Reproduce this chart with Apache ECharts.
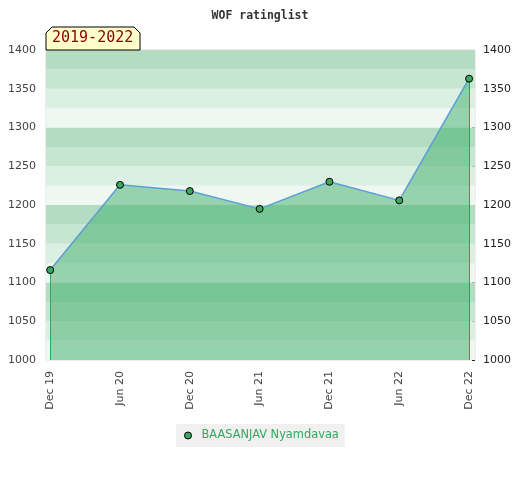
<!DOCTYPE html>
<html>
<head>
<meta charset="utf-8">
<script src="https://cdn.jsdelivr.net/npm/echarts@6/dist/echarts.min.js"></script>
<style>html,body{margin:0;padding:0;background:#fff;}#c{width:520px;height:480px;}</style>
</head>
<body>
<div id="c"></div>
<script>
const categories = ['Dec 19', 'Jun 20', 'Dec 20', 'Jun 21', 'Dec 21', 'Jun 22', 'Dec 22'];
const ratings = [1116, 1226, 1218, 1195, 1230, 1206, 1363];
const seriesName = 'BAASANJAV Nyamdavaa';
const periodLabel = '2019-2022';
const yTicks = [1000, 1050, 1100, 1150, 1200, 1250, 1300, 1350, 1400];
const bandEdges = [1000, 1025, 1050, 1075, 1100, 1125, 1150, 1175, 1200, 1225, 1250, 1275, 1300, 1325, 1350, 1375, 1400];
const bandColors = ['#b3dcc3', '#c6e6d2', '#dcefe3', '#eef7f1'];

const yMin = yTicks[0], yMax = yTicks[yTicks.length - 1];
const points = ratings.map((v, i) => [i, v]);
const bands = [];
for (let i = 0; i < bandEdges.length - 1; i++) {
  bands.push([{yAxis: bandEdges[i], itemStyle: {color: bandColors[3 - (i % 4)], opacity: 1}}, {yAxis: bandEdges[i + 1]}]);
}
const last = ratings.length - 1;

const chart = echarts.init(document.getElementById('c'));
chart.setOption({
  animation: false,
  title: {
    text: 'WOF ratinglist', left: 'center', top: 5,
    textStyle: {fontFamily: 'DejaVu Sans Mono', fontWeight: 'bold', fontSize: 11.5, color: '#333'}
  },
  grid: {left: 46, right: 45, top: 50, bottom: 120, show: true, borderColor: '#dddddd', borderWidth: 1,
         backgroundColor: 'transparent', containLabel: false, outerBoundsMode: 'none'},
  legend: {
    bottom: 33, left: 176,
    data: [{name: seriesName, icon: 'circle'}],
    itemWidth: 7, itemHeight: 7, itemGap: 6,
    backgroundColor: '#f0f0f0', padding: [6, 6, 6, 8],
    textStyle: {color: '#34a85c', fontSize: 11.4, fontFamily: 'DejaVu Sans', padding: [0, 0, 0, 5]},
    itemStyle: {borderColor: '#000', borderWidth: 1}
  },
  xAxis: {
    type: 'value', min: -0.06, max: 6.085,
    axisLine: {show: false}, axisTick: {show: false}, splitLine: {show: false},
    axisLabel: {
      customValues: categories.map((c, i) => i),
      rotate: 90, margin: 11, color: '#444', fontSize: 11, fontFamily: 'DejaVu Sans',
      formatter: v => categories[Math.round(v)] || ''
    }
  },
  yAxis: [
    {
      type: 'value', min: yMin, max: yMax, interval: 50, position: 'left',
      axisLine: {show: false}, axisTick: {show: false}, splitLine: {show: false},
      axisLabel: {color: '#444', fontSize: 11, fontFamily: 'DejaVu Sans', margin: 10, formatter: v => String(v)}
    },
    {
      type: 'value', min: yMin, max: yMax, interval: 50, position: 'right',
      axisLine: {show: false},
      axisTick: {show: true, inside: true, length: 3, lineStyle: {color: '#222'}},
      minorTick: {show: true, splitNumber: 5, length: 3, lineStyle: {color: '#222'}},
      splitLine: {show: false},
      axisLabel: {color: '#222', fontSize: 11, fontFamily: 'DejaVu Sans', margin: 8, formatter: v => String(v)}
    }
  ],
  graphic: [
    {
      type: 'polygon', z: 10,
      shape: {points: [[46, 50], [46, 33], [52, 27], [134, 27], [140, 33], [140, 50]]},
      style: {fill: '#ffffcc', stroke: '#000', lineWidth: 1}
    },
    {
      type: 'text', z: 11, left: 52, top: 31,
      style: {text: periodLabel, fill: '#8b0000', font: '15px "DejaVu Sans Mono"'}
    }
  ],
  series: [
    {
      type: 'line', name: 'bands', data: [], silent: true,
      markArea: {silent: true, data: bands}
    },
    {
      type: 'line', name: seriesName, data: points, z: 5,
      symbol: 'circle', symbolSize: 7,
      itemStyle: {color: '#3aa65e', borderColor: '#000', borderWidth: 1},
      lineStyle: {color: '#5b9fd6', width: 1.5},
      areaStyle: {color: 'rgba(62,174,106,0.5)', opacity: 1, origin: 'start'},
      markLine: {
        silent: true, symbol: 'none', label: {show: false},
        lineStyle: {color: '#2ea356', width: 1, type: 'solid', opacity: 1},
        data: [
          [{coord: [0, ratings[0]]}, {coord: [0, yMin]}],
          [{coord: [last, ratings[last]]}, {coord: [last, yMin]}]
        ]
      }
    }
  ]
});
</script>
</body>
</html>
